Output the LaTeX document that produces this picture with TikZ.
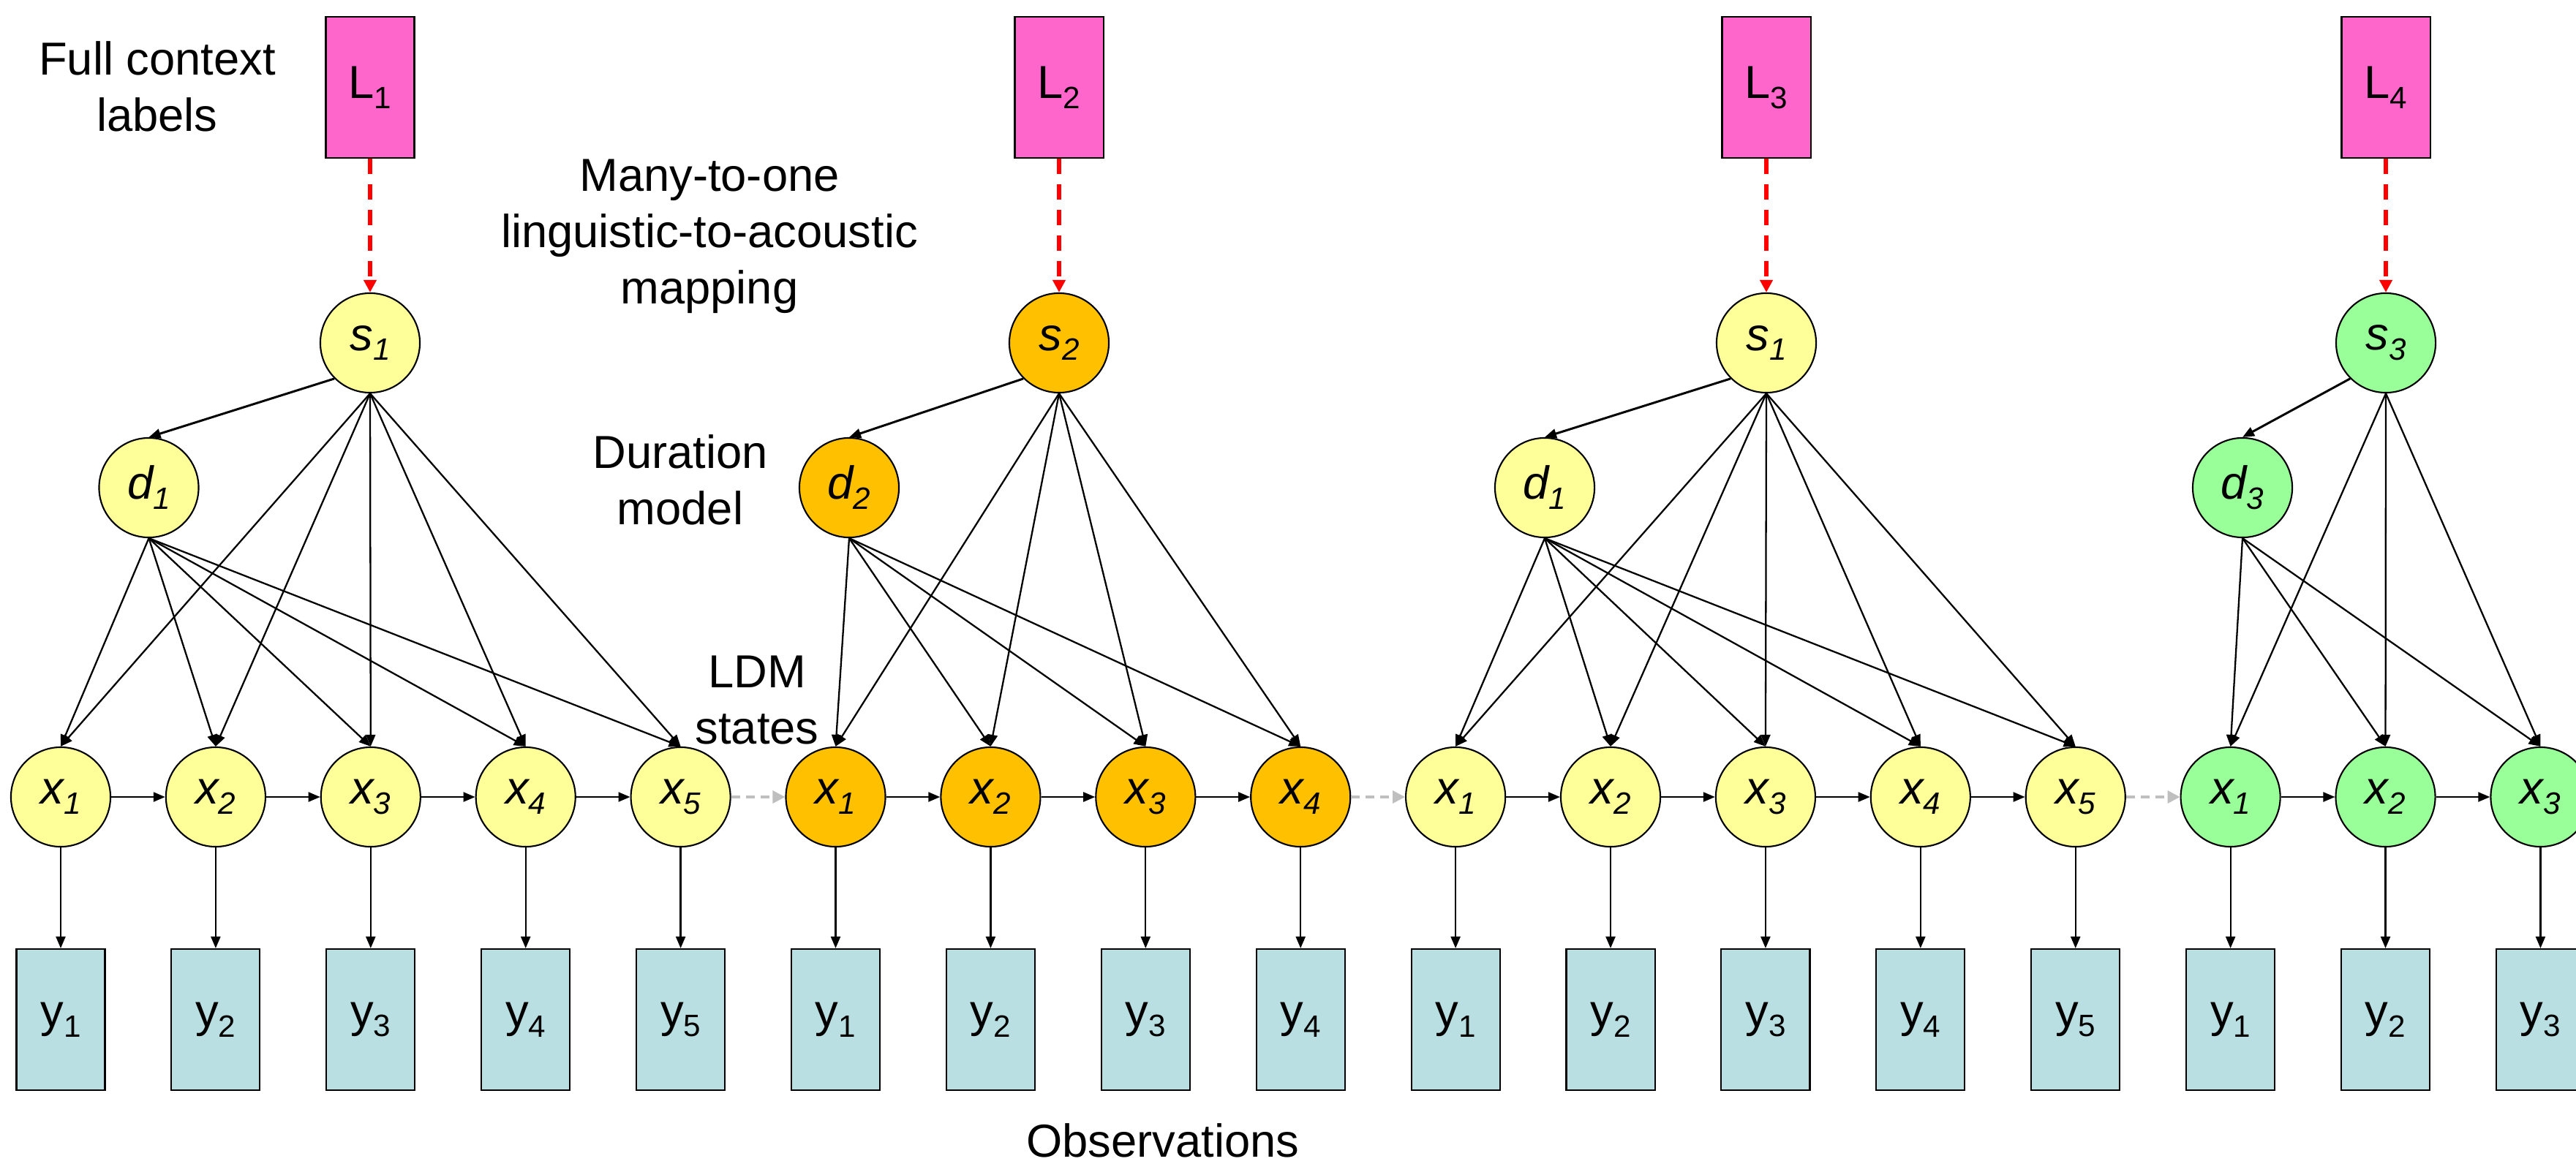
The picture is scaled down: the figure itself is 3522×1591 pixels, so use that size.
\documentclass[tikz,border=0pt]{standalone}
\usepackage{fontspec}
\setmainfont{Liberation Sans}
\usetikzlibrary{arrows.meta}

\definecolor{statey}{HTML}{FFFF99}
\definecolor{stateo}{HTML}{FFC000}
\definecolor{stateg}{HTML}{99FF99}
\definecolor{labpink}{HTML}{FF66CC}
\definecolor{obsblue}{HTML}{B9DFE2}
\definecolor{linkgray}{HTML}{BFBFBF}

% lowered, smaller index digit
\newcommand\sbs[1]{\raisebox{-0.22em}{\fontsize{12}{13}\selectfont #1}}

\begin{document}
\begin{tikzpicture}[x=0.01cm,y=-0.01cm,
  every node/.style={font=\fontsize{18}{21.9}\selectfont},
  state/.style={circle,draw,line width=0.6pt,minimum size=1.36cm,inner sep=0pt,
    font=\fontsize{18}{21.9}\selectfont\itshape},
  labelbox/.style={rectangle,draw,line width=0.6pt,fill=labpink,
    minimum width=1.21cm,minimum height=1.93cm,inner sep=0pt},
  obsbox/.style={rectangle,draw,line width=0.6pt,fill=obsblue,
    minimum width=1.21cm,minimum height=1.93cm,inner sep=0pt},
  caption/.style={align=center,inner sep=0pt},
  link/.style={-{Triangle[length=0.16cm,width=0.13cm]},line width=0.65pt},
  maplink/.style={red,dash pattern=on 0.21cm off 0.14cm,line width=1.6pt,
    -{Triangle[length=0.17cm,width=0.17cm]}},
  joinlink/.style={linkgray,dash pattern=on 0.12cm off 0.08cm,line width=1pt,
    -{Triangle[length=0.17cm,width=0.17cm]}}
]
\useasboundingbox (0,0) rectangle (3522,1591);
\clip (0,0) rectangle (3522,1591);

% one segment per label: L -> s -> d, s and d feed every LDM state,
% each state emits its observation
\foreach \g/\first/\n/\col/\sx/\dx/\sn/\ln in
  {A/0/5/statey/506/203.5/1/1,
   B/5/4/stateo/1448/1161/2/2,
   C/9/5/statey/2415/2112/1/3,
   D/14/3/stateg/3262/3066/3/4} {
  \foreach \k in {1,...,\n} {
    \pgfmathsetmacro\xx{83+211.9*(\first+\k-1)}
    \node[state,fill=\col] (\g x\k) at (\xx,1090) {x\sbs{\k}};
    \node[obsbox] (\g y\k) at (\xx,1394.5) {y\sbs{\k}};
    \draw[link] (\g x\k.south) -- (\g y\k.north);
  }
  \foreach \k in {2,...,\n} {
    \pgfmathtruncatemacro\p{\k-1}
    \draw[link] (\g x\p.east) -- (\g x\k.west);
  }
  \node[labelbox] (\g L) at (\sx,119.5) {L\sbs{\ln}};
  \node[state,fill=\col] (\g s) at (\sx,469) {s\sbs{\sn}};
  \node[state,fill=\col] (\g d) at (\dx,667) {d\sbs{\sn}};
  \draw[maplink] (\g L.south) -- (\g s.north);
  \draw[link,line width=0.85pt] (\g s.south west) -- (\g d.north);
  \foreach \k in {1,...,\n} {
    \draw[link] (\g s.south) -- (\g x\k.north);
    \draw[link] (\g d.south) -- (\g x\k.north);
  }
}

% transitions between segments
\draw[joinlink] (Ax5.east) -- (Bx1.west);
\draw[joinlink] (Bx4.east) -- (Cx1.west);
\draw[joinlink] (Cx5.east) -- (Dx1.west);

% captions
\node[caption] (fullctx) at (215,118) {Full context\\labels};
\node[caption] (mapcap) at (970,323) {Many-to-one\\linguistic-to-acoustic\\mapping};
\node[caption] (durcap) at (930,656) {Duration\\model};
\node[caption] (ldmcap) at (1035,958) {LDM\\states};
\node[caption,anchor=base] (obscap) at (1590,1582) {Observations};
\end{tikzpicture}
\end{document}
